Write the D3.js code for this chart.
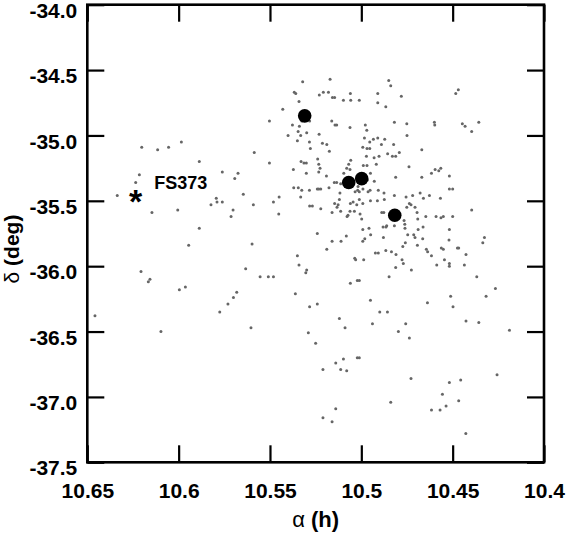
<!DOCTYPE html>
<html lang="en">
<head>
<meta charset="UTF-8">
<title>FS373 field</title>
<style>
  body { margin: 0; background: #fff; }
  text { font-family: "Liberation Sans", Arial, Helvetica, sans-serif; }
</style>
</head>
<body>
<svg id="svg" width="567" height="538"></svg>
<script src="https://d3js.org/d3.v7.min.js"></script>
<script>
// tick values and labels
const xTicks = [10.65, 10.6, 10.55, 10.5, 10.45, 10.4]
const xTickLabels = ['10.65', '10.6', '10.55', '10.5', '10.45', '10.4']
const yTicks = [-37.5, -37.0, -36.5, -36.0, -35.5, -35.0, -34.5, -34.0]
const yTickLabels = ['-37.5', '-37.0', '-36.5', '-36.0', '-35.5', '-35.0', '-34.5', '-34.0']

// faint members: [alpha (h), delta (deg)]
const members = [
  [10.5171,-34.57],[10.5321,-34.59],[10.4850,-34.58],[10.4839,-34.62],[10.5367,-34.67],[10.5359,-34.68],[10.5230,-34.69],[10.5208,-34.67],[10.5180,-34.67],[10.5158,-34.71],
  [10.5146,-34.71],[10.5060,-34.68],[10.5011,-34.73],[10.5058,-34.73],[10.5098,-34.73],[10.4910,-34.68],[10.4781,-34.70],[10.4483,-34.68],[10.4469,-34.65],[10.5341,-34.74],
  [10.5430,-34.80],[10.4910,-34.75],[10.4866,-34.78],[10.5503,-34.89],[10.5162,-34.89],[10.5135,-34.92],[10.5144,-34.92],[10.4819,-34.90],[10.4751,-34.91],[10.4600,-34.90],
  [10.4598,-34.92],[10.4447,-34.91],[10.4432,-34.93],[10.4357,-34.90],[10.4396,-34.97],[10.5377,-34.92],[10.5339,-34.93],[10.5326,-34.89],[10.5283,-34.89],[10.5062,-34.94],
  [10.4978,-34.92],[10.4970,-34.96],[10.5346,-34.97],[10.5332,-35.00],[10.5299,-34.98],[10.5231,-34.99],[10.5401,-35.00],[10.5350,-35.04],[10.5284,-35.05],[10.5279,-35.10],
  [10.5213,-35.06],[10.5189,-35.07],[10.5175,-35.12],[10.4983,-35.02],[10.4954,-35.05],[10.4934,-35.03],[10.4910,-35.02],[10.4890,-35.07],[10.4872,-35.03],[10.4954,-35.10],
  [10.4992,-35.09],[10.4969,-35.10],[10.4823,-35.07],[10.4792,-35.13],[10.4750,-35.00],[10.4669,-35.11],[10.4972,-35.16],[10.4930,-35.17],[10.4903,-35.16],[10.4830,-35.16],
  [10.4812,-35.16],[10.4856,-35.14],[10.6202,-35.09],[10.6115,-35.11],[10.6055,-35.09],[10.5985,-35.05],[10.5586,-35.13],[10.5887,-35.20],[10.5503,-35.21],[10.5330,-35.20],
  [10.5314,-35.21],[10.5301,-35.21],[10.5239,-35.18],[10.5233,-35.22],[10.5226,-35.25],[10.5233,-35.28],[10.5058,-35.19],[10.5069,-35.22],[10.5080,-35.25],[10.5096,-35.29],
  [10.5062,-35.26],[10.4989,-35.23],[10.4969,-35.23],[10.4918,-35.22],[10.4950,-35.29],[10.4739,-35.24],[10.5372,-35.26],[10.5301,-35.29],[10.5191,-35.31],[10.4565,-35.25],
  [10.4576,-35.27],[10.4616,-35.29],[10.4518,-35.31],[10.4518,-35.41],[10.6215,-35.30],[10.6235,-35.36],[10.5761,-35.28],[10.5675,-35.29],[10.5693,-35.33],[10.5646,-35.45],
  [10.5450,-35.47],[10.5481,-35.51],[10.5794,-35.48],[10.5790,-35.51],[10.5823,-35.53],[10.5761,-35.51],[10.5591,-35.53],[10.5702,-35.57],[10.5713,-35.62],[10.5598,-35.83],
  [10.5887,-35.71],[10.5945,-35.84],[10.6005,-35.57],[10.6146,-35.59],[10.6336,-35.46],[10.6206,-36.04],[10.6157,-36.10],[10.6166,-36.12],[10.5996,-36.18],[10.5963,-36.16],
  [10.5775,-36.35],[10.5730,-36.29],[10.5700,-36.24],[10.5682,-36.20],[10.5633,-36.02],[10.5554,-36.08],[10.5509,-36.08],[10.5481,-36.08],[10.5604,-36.47],[10.6097,-36.50],
  [10.6458,-36.38],[10.5361,-36.21],[10.5290,-36.51],[10.5250,-36.59],[10.5283,-36.31],[10.5241,-36.29],[10.5350,-35.92],[10.5341,-35.99],[10.5304,-36.05],[10.5299,-36.03],
  [10.5241,-35.75],[10.5189,-35.87],[10.5160,-35.81],[10.5111,-35.81],[10.5082,-35.77],[10.5036,-35.94],[10.5031,-35.95],[10.4987,-35.95],[10.5060,-36.13],[10.5022,-36.11],
  [10.5011,-36.11],[10.4950,-36.26],[10.4899,-36.35],[10.4857,-36.35],[10.4939,-36.44],[10.5120,-36.40],[10.5089,-36.47],[10.4797,-36.50],[10.4757,-36.44],[10.4737,-36.55],
  [10.4638,-36.28],[10.4511,-36.23],[10.4498,-36.31],[10.4427,-36.42],[10.4357,-36.43],[10.4317,-36.23],[10.4266,-36.17],[10.4368,-36.08],[10.4189,-36.49],[10.5210,-36.79],
  [10.5140,-36.74],[10.5098,-36.71],[10.5113,-36.79],[10.5080,-36.80],[10.5022,-36.70],[10.5011,-36.70],[10.4728,-36.86],[10.4518,-36.89],[10.4456,-36.87],[10.4556,-36.98],
  [10.4616,-37.10],[10.4569,-37.10],[10.4536,-37.07],[10.4467,-37.03],[10.4839,-37.04],[10.5210,-37.16],[10.5160,-37.19],[10.5140,-37.09],[10.4428,-37.28],[10.4257,-36.83],
  [10.5345,-35.40],[10.5326,-35.42],[10.5284,-35.42],[10.5332,-35.47],[10.5241,-35.41],[10.5233,-35.41],[10.5222,-35.41],[10.5177,-35.40],[10.5148,-35.36],[10.5135,-35.36],
  [10.5113,-35.37],[10.5047,-35.37],[10.5034,-35.43],[10.5018,-35.39],[10.5020,-35.42],[10.5011,-35.43],[10.4991,-35.41],[10.4963,-35.43],[10.4952,-35.42],[10.4967,-35.34],
  [10.4929,-35.35],[10.4907,-35.42],[10.4876,-35.44],[10.4874,-35.49],[10.4912,-35.50],[10.4950,-35.50],[10.5011,-35.49],[10.4992,-35.52],[10.5045,-35.51],[10.5060,-35.52],
  [10.5062,-35.58],[10.5120,-35.49],[10.5127,-35.53],[10.5133,-35.55],[10.5160,-35.59],[10.5146,-35.52],[10.5222,-35.56],[10.5268,-35.54],[10.5283,-35.54],[10.5370,-35.40],
  [10.5117,-35.44],[10.4812,-35.32],[10.4500,-35.41],[10.4755,-35.47],[10.4719,-35.46],[10.4678,-35.44],[10.4627,-35.46],[10.4567,-35.48],[10.4737,-35.52],[10.4728,-35.53],
  [10.4751,-35.55],[10.4706,-35.55],[10.4695,-35.59],[10.4691,-35.64],[10.4647,-35.62],[10.4591,-35.62],[10.4564,-35.63],[10.4551,-35.62],[10.4500,-35.62],[10.4396,-35.57],
  [10.4888,-35.59],[10.4877,-35.59],[10.4766,-35.65],[10.4762,-35.68],[10.4761,-35.71],[10.4865,-35.70],[10.4881,-35.70],[10.4879,-35.78],[10.4866,-35.88],[10.4835,-35.89],
  [10.4810,-35.91],[10.4819,-35.69],[10.4992,-35.72],[10.4958,-35.71],[10.4949,-35.76],[10.4992,-35.81],[10.4981,-35.79],[10.4923,-35.90],[10.4907,-35.90],[10.4861,-35.69],
  [10.4689,-35.72],[10.4662,-35.70],[10.4713,-35.76],[10.4706,-35.78],[10.4664,-35.79],[10.4759,-35.82],[10.4773,-35.85],[10.4644,-35.87],[10.4637,-35.89],[10.4616,-35.92],
  [10.4562,-35.86],[10.4551,-35.87],[10.4520,-35.80],[10.4518,-35.72],[10.4474,-35.86],[10.4467,-35.86],[10.4545,-35.95],[10.4518,-35.98],[10.4518,-36.00],[10.4587,-35.99],
  [10.4436,-35.99],[10.4427,-35.91],[10.4335,-35.82],[10.4326,-35.78],[10.4777,-35.95],[10.4770,-35.98],[10.4726,-36.03],[10.4812,-36.01],[10.4848,-36.08],[10.4660,-35.48],
  [10.4746,-35.76],[10.4693,-35.84],[10.5025,-35.53],[10.5038,-35.58],[10.5078,-35.62],[10.5073,-35.61],[10.5113,-35.58],[10.4998,-35.64],[10.5007,-35.60],[10.4596,-35.26],
  [10.4669,-35.32],[10.4819,-35.46],[10.5452,-35.60]
]

// bright members (big dots)
const bright = [[10.5310,-34.85],[10.5069,-35.36],[10.4998,-35.33],[10.4817,-35.61]]

// FS373 position
const star = {label: 'FS373', alpha: 10.6235, delta: -35.463}

const svg = d3.select('#svg')
const plotL = 87.3, plotR = 544, plotT = 4.7, plotB = 462.3
const tickLen = 17

const x = d3.scaleLinear().domain([10.65, 10.4]).range([plotL, plotR])
const y = d3.scaleLinear().domain([-37.5, -34.0]).range([plotB, plotT])

// axes, ticks pointing inward
const gx = svg.append('g')
    .attr('transform', `translate(0,${plotB})`)
    .call(d3.axisBottom(x).tickValues(xTicks)
        .tickFormat((d, i) => xTickLabels[i])
        .tickSizeInner(-tickLen).tickSizeOuter(0).tickPadding(20.5))
const gy = svg.append('g')
    .attr('transform', `translate(${plotL},0)`)
    .call(d3.axisLeft(y).tickValues(yTicks)
        .tickFormat((d, i) => yTickLabels[i])
        .tickSizeInner(-tickLen).tickSizeOuter(0).tickPadding(10))
const gt = svg.append('g')
    .attr('transform', `translate(0,${plotT})`)
    .call(d3.axisTop(x).tickValues(xTicks).tickFormat('')
        .tickSizeInner(-tickLen).tickSizeOuter(0))
const gr = svg.append('g')
    .attr('transform', `translate(${plotR},0)`)
    .call(d3.axisRight(y).tickValues(yTicks).tickFormat('')
        .tickSizeInner(-tickLen).tickSizeOuter(0))

for (const g of [gx, gy, gt, gr]) {
    g.select('.domain').remove()
    g.selectAll('line').attr('stroke', '#000').attr('stroke-width', 2.2)
    g.selectAll('text')
        .attr('fill', '#000')
        .style('font-family', '"Liberation Sans", Arial, Helvetica, sans-serif')
        .style('font-size', '21px')
        .style('font-weight', 'bold')
}
gy.selectAll('text').attr('dy', '0.6em')

// frame
svg.append('rect')
    .attr('x', plotL).attr('y', plotT)
    .attr('width', plotR - plotL).attr('height', plotB - plotT)
    .attr('fill', 'none')
    .attr('stroke', '#000')
    .attr('stroke-width', 2.6)

// points
svg.append('g')
    .selectAll('circle')
    .data(members)
    .enter()
    .append('circle')
    .attr('cx', d => x(d[0]))
    .attr('cy', d => y(d[1]))
    .attr('r', 1.5)
    .attr('fill', '#666')

svg.append('g')
    .selectAll('circle')
    .data(bright)
    .enter()
    .append('circle')
    .attr('cx', d => x(d[0]))
    .attr('cy', d => y(d[1]))
    .attr('r', 6.8)
    .attr('fill', '#000')

// FS373 marker and label
svg.append('text')
    .text('*')
    .attr('x', x(star.alpha))
    .attr('y', y(star.delta) + 17)
    .attr('text-anchor', 'middle')
    .style('font-size', '34px')
    .style('font-weight', 'bold')
svg.append('text')
    .text(star.label)
    .attr('x', x(star.alpha) + 18.5)
    .attr('y', y(star.delta) - 7)
    .style('font-size', '18px')
    .style('font-weight', 'bold')

// axis titles
const xTitle = svg.append('text')
    .attr('x', (plotL + plotR) / 2)
    .attr('y', 527)
    .attr('text-anchor', 'middle')
    .style('font-size', '22px')
xTitle.append('tspan').text('α ')
xTitle.append('tspan').text('(h)').style('font-weight', 'bold')

const yTitle = svg.append('text')
    .attr('transform', 'translate(19,249) rotate(-90)')
    .attr('text-anchor', 'middle')
    .style('font-size', '21px')
yTitle.append('tspan').text('δ ')
yTitle.append('tspan').text('(deg)').style('font-weight', 'bold')
</script>
</body>
</html>
